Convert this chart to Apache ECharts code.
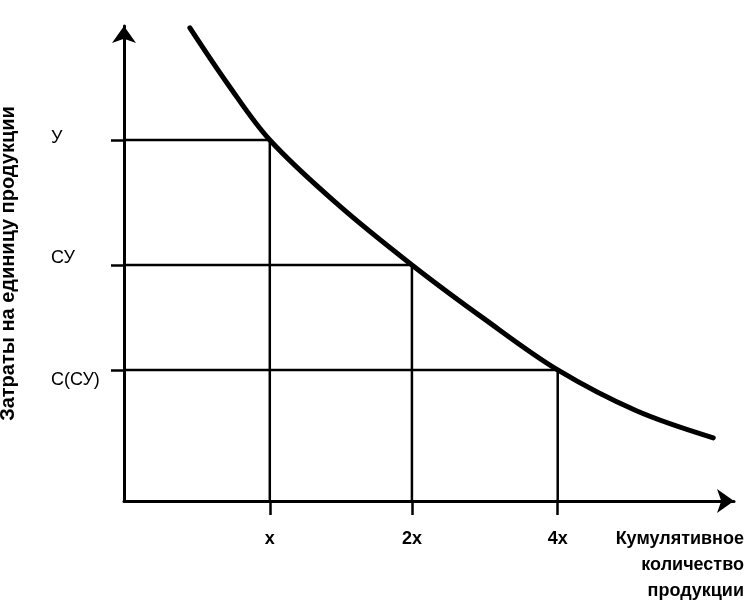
<!DOCTYPE html>
<html>
<head>
<meta charset="utf-8">
<script src="https://cdn.jsdelivr.net/npm/echarts@6/dist/echarts.min.js"></script>
<style>
  html, body { margin: 0; padding: 0; background: #fff; }
  #chart { width: 755px; height: 600px; }
</style>
</head>
<body>
<div id="chart"></div>
<script>
// Schematic learning curve (values in abstract chart units, 0..100)
const curveX = [10.8, 17.0, 23.9, 35.0, 47.2, 59.0, 71.1, 84.0, 96.6];
const curveY = [99.6, 87.8, 76.0, 62.5, 49.7, 38.4, 27.6, 19.0, 13.3];

const xTickValues = [23.9, 47.2, 71.1];
const xTickLabels = ['x', '2x', '4x'];

const yLevelValues = [76.0, 49.7, 27.6];
const yLabelValues = [76.4, 51.2, 25.5];
const yLevelLabels = ['У', 'СУ', 'С(СУ)'];

const xAxisName = 'Кумулятивное\nколичество\nпродукции';
const yAxisName = 'Затраты на единицу продукции';

function nearestLabel(values, labels, v) {
  let best = 0, bd = Infinity;
  values.forEach((x, i) => { const d = Math.abs(x - v); if (d < bd) { bd = d; best = i; } });
  return labels[best];
}

const FONT = 'Liberation Sans, Arial, sans-serif';
const INK = '#000';

const dropSeries = xTickValues.map((xv, i) => ({
  type: 'line',
  data: [[xv, 0], [xv, yLevelValues[i]], [0, yLevelValues[i]]],
  symbol: 'none',
  lineStyle: { color: INK, width: 2.5 },
  silent: true,
  z: 2
}));

const chart = echarts.init(document.getElementById('chart'), null, { renderer: 'canvas' });
chart.setOption({
  animation: false,
  backgroundColor: '#fff',
  grid: { left: 124, right: 21, top: 26, bottom: 99, containLabel: false, outerBoundsMode: 'none' },
  xAxis: {
    type: 'value', min: 0, max: 100,
    splitLine: { show: false },
    axisLine: { show: true, lineStyle: { color: INK, width: 3 }, symbol: ['none', 'arrow'], symbolSize: [18, 17] },
    axisTick: { show: true, customValues: xTickValues, length: 14, lineStyle: { color: INK, width: 2.5 } },
    axisLabel: {
      customValues: xTickValues, margin: 29, color: INK,
      fontFamily: FONT, fontWeight: 'bold', fontSize: 18,
      formatter: v => nearestLabel(xTickValues, xTickLabels, v)
    },
    name: xAxisName,
    nameLocation: 'end',
    nameGap: 10,
    nameTextStyle: {
      color: INK, fontFamily: FONT, fontWeight: 'bold', fontSize: 18,
      align: 'right', verticalAlign: 'top', lineHeight: 26, padding: [25, 0, 0, 0]
    }
  },
  yAxis: {
    type: 'value', min: 0, max: 100,
    splitLine: { show: false },
    axisLine: { show: true, lineStyle: { color: INK, width: 3 }, symbol: ['none', 'arrow'], symbolSize: [18, 17] },
    axisTick: { show: true, customValues: yLevelValues, length: 13, lineStyle: { color: INK, width: 2.5 } },
    axisLabel: {
      customValues: yLabelValues, margin: 73, align: 'left', color: INK,
      fontFamily: FONT, fontSize: 18,
      formatter: v => nearestLabel(yLabelValues, yLevelLabels, v)
    },
    name: yAxisName,
    nameLocation: 'middle',
    nameRotate: 90,
    nameGap: 106,
    nameTextStyle: { color: INK, fontFamily: FONT, fontWeight: 'bold', fontSize: 20 }
  },
  series: [
    ...dropSeries,
    {
      type: 'line',
      data: curveX.map((x, i) => [x, curveY[i]]),
      smooth: 0.35,
      symbol: 'none',
      lineStyle: { color: INK, width: 5, cap: 'round' },
      z: 3
    }
  ]
});
</script>
</body>
</html>
